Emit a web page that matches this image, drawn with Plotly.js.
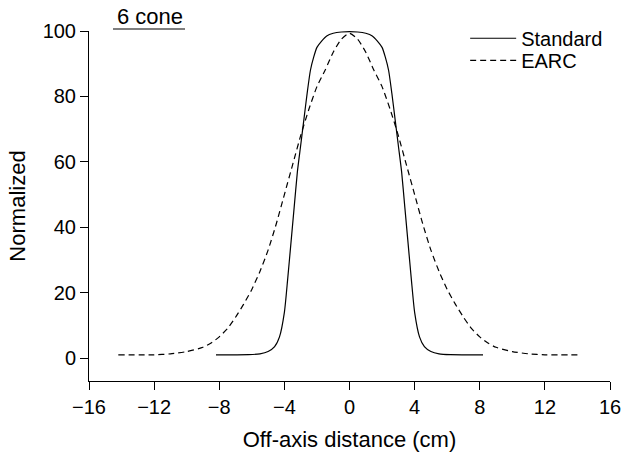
<!DOCTYPE html>
<html>
<head>
<meta charset="utf-8">
<script src="https://cdn.plot.ly/plotly-3.0.1.min.js"></script>
<style>html,body{margin:0;padding:0;background:#fff;}#chart{width:624px;height:452px;}</style>
</head>
<body>
<div id="chart"></div>
<script>
const stdX = [-8.2, -7.0, -6.2, -5.5, -5.0, -4.6, -4.3, -4.0, -3.8, -3.6, -3.4, -3.2, -3.0, -2.8, -2.6, -2.4, -2.2, -2.0, -1.7, -1.4, -1.0, -0.5, 0, 0.5, 1.0, 1.4, 1.7, 2.0, 2.2, 2.4, 2.6, 2.8, 3.0, 3.2, 3.4, 3.6, 3.8, 4.0, 4.3, 4.6, 5.0, 5.5, 6.2, 7.0, 8.2];
const stdY = [1, 1, 1.05, 1.3, 2, 3.5, 6.5, 14, 24, 35, 46, 57, 65, 73, 81, 88, 92, 95, 97, 98.5, 99.3, 99.7, 99.8, 99.7, 99.3, 98.5, 97, 95, 92, 88, 81, 73, 65, 57, 46, 35, 24, 14, 6.5, 3.5, 2, 1.3, 1.05, 1, 1];
const earcX = [-14.2, -12, -11, -10, -9, -8.5, -8, -7.5, -7, -6.5, -6, -5.5, -5, -4.5, -4, -3.5, -3, -2.5, -2, -1.5, -1, -0.5, 0, 0.5, 1, 1.5, 2, 2.5, 3, 3.5, 4, 4.5, 5, 5.5, 6, 6.5, 7, 7.5, 8, 8.5, 9, 10, 11, 12, 14.2];
const earcY = [1, 1, 1.3, 2, 3.3, 4.6, 6.5, 9, 12.5, 16.5, 21, 26.5, 33, 41, 50, 59, 68, 76, 83, 88, 93.5, 97.5, 99.3, 97.5, 93.5, 88, 83, 76, 68, 59, 50, 41, 33, 26.5, 21, 16.5, 12.5, 9, 6.5, 4.6, 3.3, 2, 1.3, 1, 1];
const seriesNames = ["Standard", "EARC"];
const xTicks = [-16, -12, -8, -4, 0, 4, 8, 12, 16];
const yTicks = [0, 20, 40, 60, 80, 100];

const ff = "Liberation Sans, Arial, sans-serif";
const font = {family: ff, size: 20, color: "#000"};
const tfont = {family: ff, size: 22, color: "#000"};
const afont = {family: ff, size: 22, color: "#000"};

const traces = [
  {x: stdX, y: stdY, name: seriesNames[0], legend: "legend", mode: "lines", line: {color: "#000", width: 1.2, shape: "spline", smoothing: 0.6}},
  {x: earcX, y: earcY, name: seriesNames[1], legend: "legend2", mode: "lines", line: {color: "#000", width: 1.2, dash: "6px,4px", shape: "spline", smoothing: 0.6}}
];

const legBase = {xanchor: "left", yanchor: "top", bgcolor: "rgba(0,0,0,0)", font: font, itemwidth: 46};

const layout = {
  width: 624, height: 452,
  margin: {l: 89, r: 14, t: 31, b: 71},
  paper_bgcolor: "#fff", plot_bgcolor: "#fff",
  font: font,
  showlegend: true,
  legend: Object.assign({x: 0.722, y: 1.035}, legBase),
  legend2: Object.assign({x: 0.722, y: 0.972}, legBase),
  xaxis: {
    range: [-16, 16], tickvals: xTicks, ticktext: xTicks.map(v => v < 0 ? "\u2212" + Math.abs(v) : String(v)),
    showgrid: false, zeroline: false, showline: true, linecolor: "#000", linewidth: 1,
    ticks: "outside", ticklen: 8, tickcolor: "#000", tickfont: font,
    title: {text: "Off-axis distance (cm)", font: tfont, standoff: 14}
  },
  yaxis: {
    range: [-7, 100], tickvals: yTicks,
    showgrid: false, zeroline: false, showline: true, linecolor: "#000", linewidth: 1,
    ticks: "outside", ticklen: 8, tickcolor: "#000", tickfont: font,
    title: {text: "Normalized", font: tfont, standoff: 10}
  },
  annotations: [
    {text: "6 cone", xref: "paper", yref: "paper", x: (150 - 89) / 521, y: (381 - 17) / 350, xanchor: "center", yanchor: "middle", showarrow: false, font: afont}
  ],
  shapes: [
    {type: "line", xref: "paper", yref: "paper", x0: (113 - 89) / 521, x1: (185 - 89) / 521, y0: (381 - 29) / 350, y1: (381 - 29) / 350, line: {color: "#000", width: 1.2}}
  ]
};

Plotly.newPlot("chart", traces, layout, {displayModeBar: false, staticPlot: true});
</script>
</body>
</html>
